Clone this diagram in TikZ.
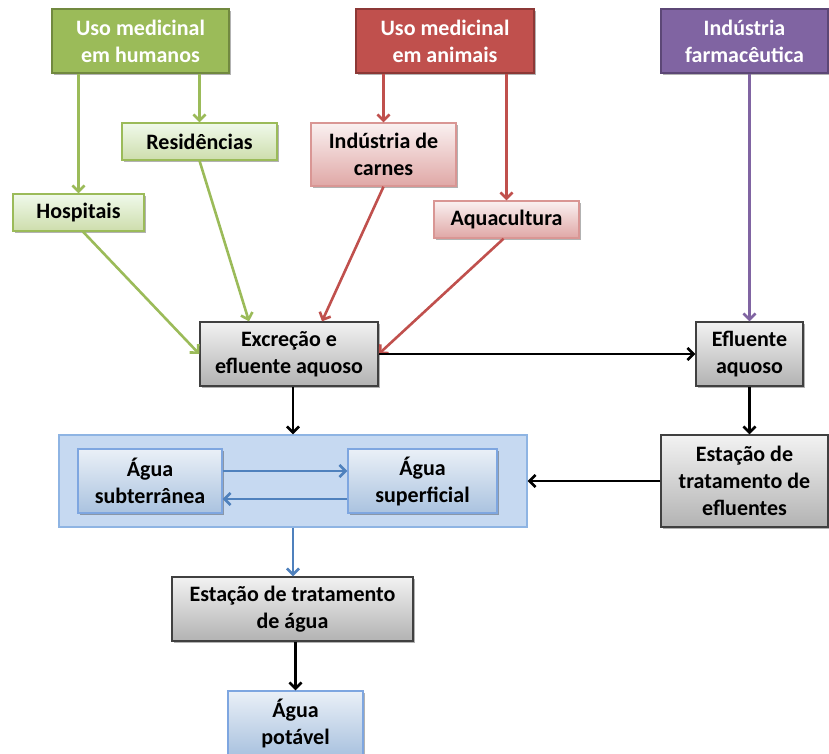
\documentclass[tikz,border=0pt]{standalone}
\usepackage{fontspec}
\setmainfont{Carlito}
\usetikzlibrary{arrows.meta,shadows}
\definecolor{gA}{HTML}{9BBB59}
\definecolor{gD}{HTML}{71893F}
\definecolor{rA}{HTML}{C0504D}
\definecolor{rD}{HTML}{8C3836}
\definecolor{pA}{HTML}{8064A2}
\definecolor{pD}{HTML}{5C4776}
\definecolor{bA}{HTML}{4F81BD}
\definecolor{bL}{HTML}{7EA6E0}
\definecolor{cF}{HTML}{C6D9F1}
\definecolor{cB}{HTML}{8EB4E3}
\tikzset{
  box/.style={draw, line width=1.4pt, inner sep=0pt, align=center,
    font=\fontsize{22}{27}\selectfont\bfseries,
    drop shadow={shadow xshift=1.5pt, shadow yshift=-1.5pt, opacity=0.3, fill=black}},
  darkgreen/.style={box, fill=gA, draw=gD, text=white},
  darkred/.style={box, fill=rA, draw=rD, text=white},
  darkpurple/.style={box, fill=pA, draw=pD, text=white},
  lightgreen/.style={box, draw=gA, top color=green!3!white!92!gA, bottom color=gA!50!white},
  lightred/.style={box, draw=rA!60, top color=rA!8!white, bottom color=rA!50!white},
  graybox/.style={box, draw=black!75, top color=black!5, bottom color=black!30},
  bluebox/.style={box, draw=bL, top color=bA!12!white, bottom color=bA!48!white},
  container/.style={draw=cB, line width=1.4pt, fill=cF, inner sep=0pt},
  arr/.style={line width=2.6pt, -{Straight Barb[length=6pt,width=12pt]}},
}
\begin{document}
\begin{tikzpicture}[x=1pt,y=-1pt]
\useasboundingbox (0,0) rectangle (829,753);
\clip (0,0) rectangle (829,753);
% containers and nodes
\node[container, minimum width=468pt, minimum height=92pt] (cont) at (293,481) {};
\node[darkgreen, minimum width=177pt, minimum height=64pt] (umh) at (140.5,41) {Uso medicinal\\em humanos};
\node[darkred, minimum width=178pt, minimum height=64pt] (uma) at (445,41) {Uso medicinal\\em animais};
\node[darkpurple, minimum width=167pt, minimum height=64pt] (far) at (744.5,41) {Indústria\\farmacêutica};
\node[lightgreen, minimum width=155pt, minimum height=37pt] (res) at (199.5,141.5) {Residências};
\node[lightgreen, minimum width=131pt, minimum height=37pt] (hos) at (78.5,212.5) {Hospitais};
\node[lightred, minimum width=145pt, minimum height=63pt] (car) at (383.5,154.5) {Indústria de\\carnes};
\node[lightred, minimum width=145pt, minimum height=37pt] (aqu) at (506.5,219.5) {Aquacultura};
\node[graybox, minimum width=178pt, minimum height=64pt] (exc) at (289,354) {Excreção e\\efluente aquoso};
\node[graybox, minimum width=107pt, minimum height=64pt] (efl) at (749.5,354) {Efluente\\aquoso};
\node[graybox, minimum width=167pt, minimum height=92pt] (ete) at (744.5,481) {Estação de\\tratamento de\\efluentes};
\node[bluebox, minimum width=144pt, minimum height=64pt] (sub) at (150,481) {Água\\subterrânea};
\node[bluebox, minimum width=149pt, minimum height=64pt] (sup) at (422.5,481) {Água\\superficial};
\node[graybox, minimum width=241pt, minimum height=64pt] (eta) at (292.5,609) {Estação de tratamento\\de água};
\node[bluebox, minimum width=135pt, minimum height=64pt] (pot) at (295.5,723) {Água\\potável};
% connectors
\draw[arr, gA] (umh.south -| hos.north) -- (hos.north);
\draw[arr, gA] (umh.south -| res.north) -- (res.north);
\draw[arr, rA] (uma.south -| car.north) -- (car.north);
\draw[arr, rA] (uma.south -| aqu.north) -- (aqu.north);
\draw[arr, pA] (far.south -| efl.north) -- (efl.north);
\draw[arr, gA] ([xshift=4.5pt]hos.south) -- (exc.west);
\draw[arr, gA] (res.south) -- ([xshift=-40pt]exc.north);
\draw[arr, rA] (car.south) -- ([xshift=33pt]exc.north);
\draw[arr, rA] ([xshift=-3pt]aqu.south) -- (exc.east);
\draw[arr, black] (exc.east) -- (efl.west);
\draw[arr, black] (exc.south -| cont.north) -- (cont.north);
\draw[arr, black] (efl.south) -- (efl.south |- ete.north);
\draw[arr, black] (ete.west) -- (cont.east);
\draw[arr, bA] ([yshift=10pt]sub.east) -- ([yshift=10pt]sup.west);
\draw[arr, bA] ([yshift=-18pt]sup.west) -- ([yshift=-18pt]sub.east);
\draw[arr, bA] (cont.south) -- (cont.south |- eta.north);
\draw[arr, black] (eta.south -| pot.north) -- (pot.north);
\end{tikzpicture}
\end{document}
